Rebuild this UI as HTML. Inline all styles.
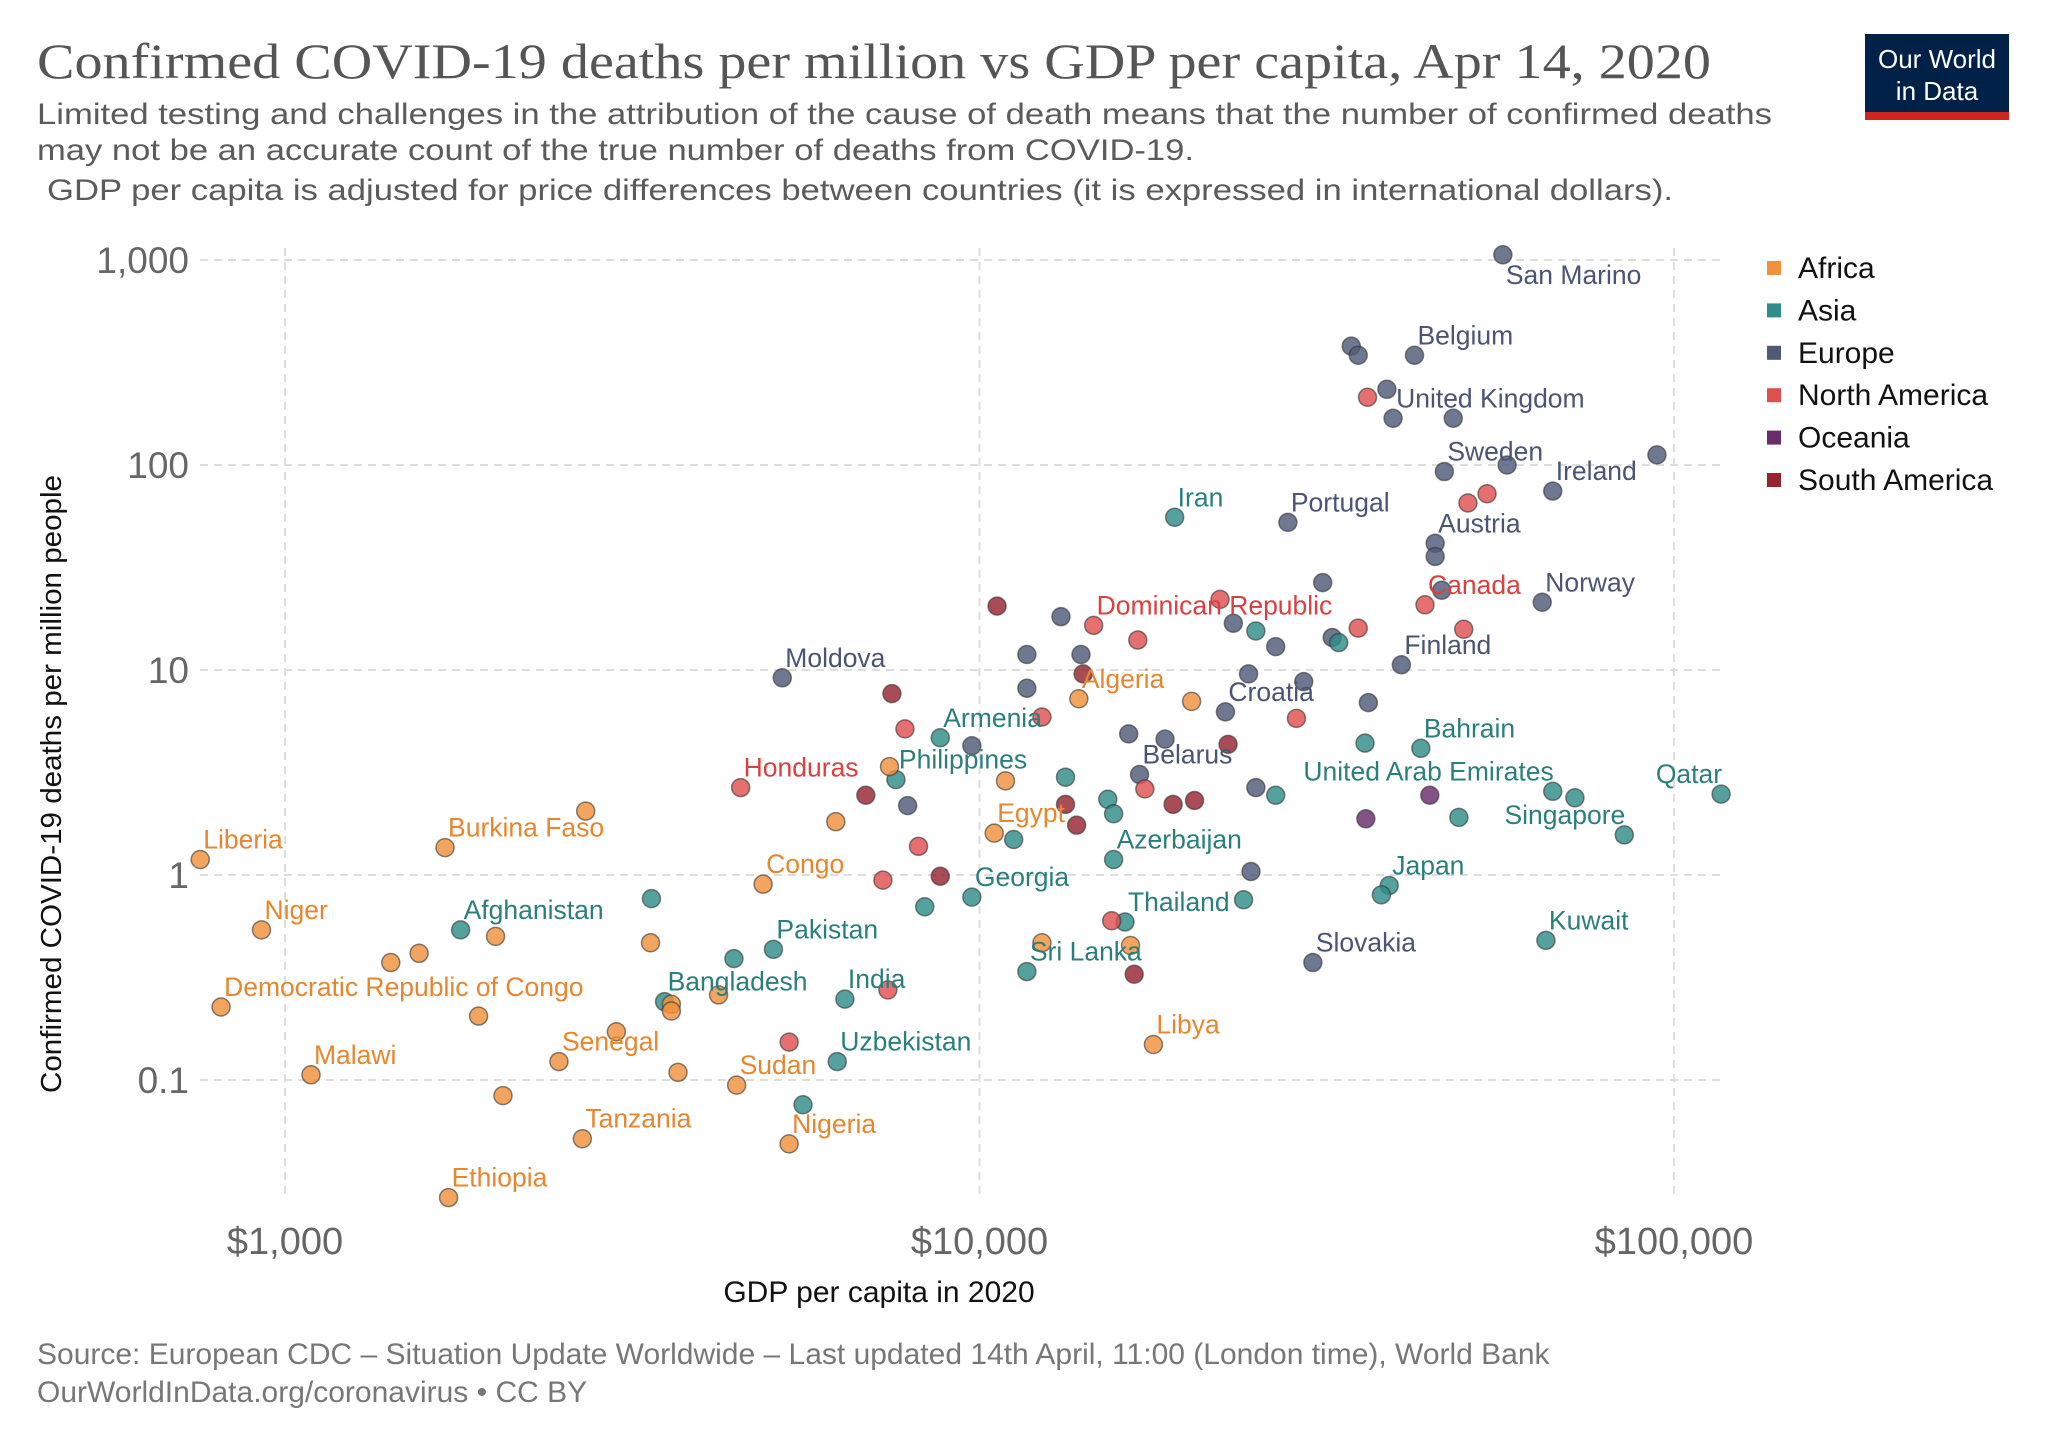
<!DOCTYPE html>
<html><head><meta charset="utf-8"><style>
html,body{margin:0;padding:0;background:#fff;}
svg{display:block;font-family:"Liberation Sans",sans-serif;}
</style></head><body>
<svg id="chart" width="2048" height="1446" viewBox="0 0 2048 1446" xmlns="http://www.w3.org/2000/svg">
<text x="37" y="78" font-family="Liberation Serif, serif" font-size="50" fill="#555" textLength="1674" lengthAdjust="spacingAndGlyphs">Confirmed COVID-19 deaths per million vs GDP per capita, Apr 14, 2020</text>
<g font-size="30" fill="#5b5b5b">
<text x="37" y="124" textLength="1735" lengthAdjust="spacingAndGlyphs">Limited testing and challenges in the attribution of the cause of death means that the number of confirmed deaths</text>
<text x="37" y="160" textLength="1157" lengthAdjust="spacingAndGlyphs">may not be an accurate count of the true number of deaths from COVID-19.</text>
<text x="47" y="200" textLength="1626" lengthAdjust="spacingAndGlyphs">GDP per capita is adjusted for price differences between countries (it is expressed in international dollars).</text>
</g>
<g>
<rect x="1865" y="34" width="144" height="86" fill="#002147"/>
<rect x="1865" y="112" width="144" height="8" fill="#ce261e"/>
<text x="1937" y="68" text-anchor="middle" font-family="Liberation Sans Narrow, Liberation Sans, sans-serif" font-size="26" fill="#fff">Our World</text>
<text x="1937" y="100" text-anchor="middle" font-family="Liberation Sans Narrow, Liberation Sans, sans-serif" font-size="26" fill="#fff">in Data</text>
</g>
<g id="grid"></g>
<g id="axes"></g>
<g id="points"></g>
<g id="labels"></g>
<g id="legend"></g>
<text transform="translate(61,784) rotate(-90)" text-anchor="middle" font-size="29" fill="#111" textLength="618" lengthAdjust="spacingAndGlyphs">Confirmed COVID-19 deaths per million people</text>
<text x="879" y="1302" text-anchor="middle" font-size="30" fill="#111">GDP per capita in 2020</text>
<g font-size="30" fill="#777">
<text x="37" y="1364">Source: European CDC – Situation Update Worldwide – Last updated 14th April, 11:00 (London time), World Bank</text>
<text x="37" y="1402">OurWorldInData.org/coronavirus • CC BY</text>
</g>
</svg>
<script>
const NS='http://www.w3.org/2000/svg';
const yTicks=[1000,100,10,1,0.1];
const yTickLabels=['1,000','100','10','1','0.1'];
const xTicks=[1000,10000,100000];
const xTickLabels=['$1,000','$10,000','$100,000'];
const continents=['Africa','Asia','Europe','North America','Oceania','South America'];
const names=[
'San Marino','','','Belgium','','United Kingdom','','Ireland','Sweden','','','Portugal','Austria','','','Norway','','','Finland','','','','','Croatia','','','','','Moldova','','','','','Belarus','','','','Slovakia',
'Iran','','','','Bahrain','','United Arab Emirates','','','Singapore','Qatar','Japan','','Kuwait','','Thailand','Azerbaijan','','','','Sri Lanka','','Georgia','','Armenia','Philippines','Pakistan','','India','Bangladesh','','Afghanistan','Uzbekistan','',
'','','','Canada','','','','','Dominican Republic','','','','','Honduras','','','','','',
'','',
'','','','','','','','','','','',
'Liberia','Niger','Democratic Republic of Congo','Malawi','Ethiopia','Burkina Faso','','','','','','','Senegal','Tanzania','','','','','','','Sudan','Nigeria','Congo','','','Egypt','','Algeria','','','','Libya'];
const gdp=[56700,34300,35100,42300,38600,39400,48100,66900,46700,57500,94500,27800,45300,45300,31200,64600,46300,32200,40500,23200,26700,24400,29300,22600,36300,13100,11700,14000,5200,11700,9750,16400,18500,17000,7880,25000,24600,30200,
19100,25000,32900,35900,43200,26700,66900,72000,49000,84800,116900,38900,37900,65400,24000,16200,15600,13300,15300,15600,11700,11200,9750,8340,8780,7580,5050,4430,6400,3520,3370,1790,6240,5570,
36200,50500,53800,43800,35100,49800,22200,28600,14600,16900,12300,17300,7810,4530,8170,7260,15500,7380,5320,
44500,36000,
10600,14100,7480,22800,6860,13300,19000,20400,13800,8780,16700,
755,925,809,1090,1720,1700,2710,1420,1560,2010,1900,2060,2480,2680,3000,3600,3600,3680,3360,4210,4470,5320,4880,6210,7420,10500,10900,13900,20200,12300,16500,17800];
const deaths=[1060,380,343,343,234,169,169,74.6,92.9,100,112,52.5,41.5,35.8,26.7,21.4,24.5,14.4,10.6,16.9,13.0,9.57,8.77,6.25,6.93,18.2,11.9,11.9,9.16,8.15,4.27,4.88,4.6,3.09,2.18,2.67,1.04,0.374,
55.6,15.5,13.6,4.4,4.15,2.45,2.56,2.38,1.91,1.57,2.48,0.889,0.80,0.48,0.757,0.59,1.19,3.0,2.34,1.99,0.338,1.49,0.78,0.70,4.67,2.92,0.434,0.391,0.248,0.241,0.767,0.54,0.123,0.0757,
214,65.3,72.4,20.8,16.0,15.8,22.1,5.81,16.5,14.0,5.9,2.63,5.16,2.67,1.38,0.944,0.598,0.275,0.153,
2.45,1.88,
20.5,9.57,7.67,4.34,2.45,2.21,2.21,2.31,1.75,0.986,0.328,
1.19,0.54,0.227,0.106,0.0267,1.36,2.05,0.374,0.415,0.502,0.205,0.0839,0.123,0.0517,0.172,0.234,0.217,0.109,0.467,0.26,0.0944,0.0488,0.902,1.82,3.38,1.6,2.88,7.24,7.03,0.467,0.453,0.149];
const group=[].concat(Array(38).fill(2),Array(34).fill(1),Array(19).fill(3),Array(2).fill(4),Array(11).fill(5),Array(32).fill(0));
const fills=['#f0913c','#2e8c89','#4e5a78','#e04f4f','#6a2c6c','#962430'];
const textCols=['#e8862f','#2a7f7c','#4a5575','#d9403f','#6a2c6c','#962430'];
const X0=285,DX=694.5,Y0=260,DY=205;
function xs(v){return X0+(Math.log10(v)-3)*DX;}
function ys(v){return Y0+(3-Math.log10(v))*DY;}
function mk(tag,attrs,parent){const e=document.createElementNS(NS,tag);for(const k in attrs)e.setAttribute(k,attrs[k]);parent.appendChild(e);return e;}
const grid=document.getElementById('grid'),axes=document.getElementById('axes');
yTicks.forEach((t,i)=>{
 const l=mk('line',{x1:200,x2:1722,y1:ys(t),y2:ys(t),stroke:'#ddd','stroke-width':2,'stroke-dasharray':'8,6'},grid);
 
 
 const tx=mk('text',{x:189,y:ys(t)+13,'text-anchor':'end','font-size':37,fill:'#666'},axes);
 tx.textContent=yTickLabels[i];
 
 
});
xTicks.forEach((t,i)=>{
 const l=mk('line',{x1:xs(t),x2:xs(t),y1:248,y2:1200,stroke:'#ddd','stroke-width':2,'stroke-dasharray':'8,6'},grid);
 
 
 const tx=mk('text',{x:xs(t),y:1254,'text-anchor':'middle','font-size':38,fill:'#666'},axes);
 tx.textContent=xTickLabels[i];
 
 
});
const pts=document.getElementById('points'),lbl=document.getElementById('labels');
const endAnchored={'Qatar':1,'United Arab Emirates':1,'Singapore':1};
for(let i=0;i<gdp.length;i++){
 const c=mk('circle',{cx:xs(gdp[i]),cy:ys(deaths[i]),r:9,fill:fills[group[i]],'fill-opacity':0.82,stroke:'#333','stroke-opacity':0.6,'stroke-width':1.5},pts);
 
 
 if(names[i]){
  let lx=xs(gdp[i])+3, ly=ys(deaths[i])-11, anchor='start';
  if(names[i]==='San Marino'){ly=ys(deaths[i])+29;}
  if(endAnchored[names[i]]){anchor='end';lx=xs(gdp[i])+1;}
  const t=mk('text',{x:lx,y:ly,'text-anchor':anchor,'font-size':26.5,fill:textCols[group[i]]},lbl);
  t.textContent=names[i];
  
  
 }
}
const leg=document.getElementById('legend');
continents.forEach((n,i)=>{
 const y=268+i*42.4;
 const r=mk('rect',{x:1767,y:y-7,width:14,height:14,fill:fills[i]},leg);
 
 
 const t=mk('text',{x:1798,y:y+10,'font-size':30,fill:'#111'},leg);
 t.textContent=n;
 
 
});
</script>
</body></html>
